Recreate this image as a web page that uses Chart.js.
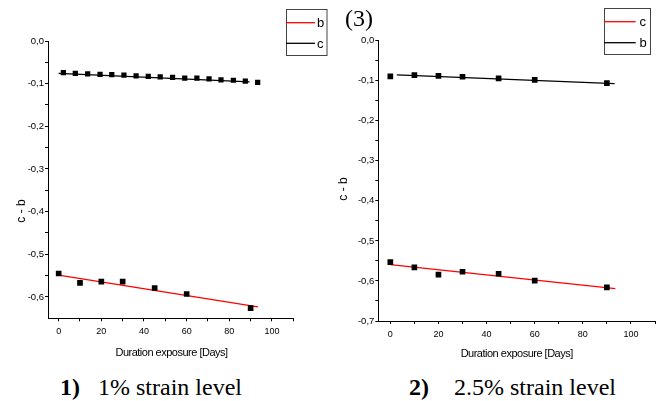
<!DOCTYPE html>
<html>
<head>
<meta charset="utf-8">
<script src="https://cdn.jsdelivr.net/npm/chart.js@4.4.1/dist/chart.umd.min.js"></script>
<style>
  body { margin: 0; background: #fff; width: 661px; height: 401px; overflow: hidden; position: relative; }
  canvas { position: absolute; top: 0; }
  .cap { position: absolute; font-family: "Liberation Serif", "Times New Roman", serif; font-size: 24px; line-height: 24px; white-space: nowrap; color: #000; }
  .cap b { display: inline-block; }
</style>
</head>
<body>
<canvas id="chart1" width="330" height="370" style="left:0"></canvas>
<canvas id="chart2" width="331" height="370" style="left:330px"></canvas>
<div class="cap" style="left:345px; top:6px;">(3)</div>
<div class="cap" style="left:60px; top:375px;"><b style="width:38px">1)</b>1% strain level</div>
<div class="cap" style="left:409px; top:375px;"><b style="width:45px">2)</b>2.5% strain level</div>
<script>
// panel 1 : 1% strain level
const days1C = [2.2, 7.8, 13.6, 19.4, 24.9, 30.6, 36.3, 42.0, 47.6, 53.4, 59.1, 64.8, 70.5, 76.1, 81.9, 87.5, 93.3];
const c1 = [-0.074, -0.076, -0.077, -0.078, -0.079, -0.080, -0.082, -0.083, -0.084, -0.085, -0.087, -0.087, -0.089, -0.091, -0.092, -0.094, -0.097];
const days1B = [0, 10, 20, 30, 45, 60, 90];
const b1 = [-0.545, -0.567, -0.564, -0.564, -0.579, -0.593, -0.626];
const fitC1X = [0, 89.5];
const fitC1Y = [-0.076, -0.096];
const fitB1X = [0, 93.4];
const fitB1Y = [-0.549, -0.623];

// panel 2 : 2.5% strain level
const days2 = [0, 10, 20, 30, 45, 60, 90];
const b2 = [-0.089, -0.086, -0.088, -0.090, -0.094, -0.098, -0.106];
const c2 = [-0.553, -0.566, -0.584, -0.577, -0.582, -0.599, -0.616];
const fitB2X = [2.7, 93.2];
const fitB2Y = [-0.0855, -0.107];
const fitC2X = [0, 93.5];
const fitC2Y = [-0.559, -0.619];

// axes
const xTicks = [0, 10, 20, 30, 40, 50, 60, 70, 80, 90, 100, 110];
const xLabels = [0, 20, 40, 60, 80, 100];
const yTicks1 = [0, -0.05, -0.1, -0.15, -0.2, -0.25, -0.3, -0.35, -0.4, -0.45, -0.5, -0.55, -0.6];
const yTicks2 = [0, -0.05, -0.1, -0.15, -0.2, -0.25, -0.3, -0.35, -0.4, -0.45, -0.5, -0.55, -0.6, -0.65, -0.7];
const xTitle = "Duration exposure [Days]";
const yTitle = "c - b";

Chart.defaults.font.family = "'Liberation Sans', Arial, sans-serif";
Chart.defaults.color = "#000";

function pts(xs, ys) {
  return xs.map((x, i) => ({ x: x, y: ys[i] }));
}

function fmtY(v) {
  const r = Math.round(v * 100);
  if (r % 10 !== 0) return "";
  if (r === 0) return "0,0";
  return (v < 0 ? "-" : "") + "0," + Math.abs(r / 10);
}

// legend box + axis titles
const decor = {
  id: "decor",
  afterDraw(chart, args, o) {
    const ctx = chart.ctx;
    ctx.save();
    const lg = o.legend;
    ctx.strokeStyle = "#444";
    ctx.lineWidth = 1;
    ctx.strokeRect(lg.x + 0.5, lg.y + 0.5, lg.w, lg.h);
    const items = chart.data.datasets.filter(d => d.showLine);
    items.forEach((d, i) => {
      const y = lg.rows[i];
      ctx.strokeStyle = d.borderColor;
      ctx.lineWidth = 1.3;
      ctx.beginPath();
      ctx.moveTo(lg.x, y);
      ctx.lineTo(lg.lineEnd, y);
      ctx.stroke();
      ctx.fillStyle = "#000";
      ctx.font = "13px 'Liberation Sans', Arial, sans-serif";
      ctx.textBaseline = "middle";
      ctx.textAlign = "left";
      ctx.fillText(d.label, lg.textX, y + 1);
    });

    ctx.fillStyle = "#000";
    ctx.font = "11px 'Liberation Sans', Arial, sans-serif";
    ctx.letterSpacing = "-0.5px";
    ctx.textAlign = "center";
    ctx.textBaseline = "middle";
    ctx.fillText(xTitle, o.xTitle.x, o.xTitle.y);
    ctx.letterSpacing = "0px";

    ctx.font = "12px 'Liberation Sans', Arial, sans-serif";
    ctx.translate(o.yTitle.x, o.yTitle.y);
    ctx.rotate(-Math.PI / 2);
    ctx.fillText(yTitle, 0, 0);
    ctx.restore();
  }
};

function makeChart(id, datasets, cfg) {
  return new Chart(document.getElementById(id), {
    type: "scatter",
    data: { datasets: datasets },
    options: {
      responsive: false,
      animation: false,
      layout: { padding: { top: cfg.top, right: cfg.right, left: 0, bottom: 0 } },
      plugins: {
        legend: { display: false },
        tooltip: { enabled: false },
        decor: cfg.decor
      },
      scales: {
        x: {
          type: "linear",
          min: -5,
          max: 110,
          afterFit: s => { s.height = cfg.xHeight; },
          afterBuildTicks: s => { s.ticks = xTicks.map(v => ({ value: v })); },
          border: { display: true, color: "#000", width: 1 },
          grid: { drawOnChartArea: false, drawTicks: true, tickLength: 3, color: "#000" },
          ticks: {
            font: { size: 9 },
            padding: 5,
            maxRotation: 0,
            autoSkip: false,
            callback: v => (xLabels.includes(v) ? String(v) : "")
          }
        },
        y: {
          type: "linear",
          min: cfg.yMin,
          max: 0,
          afterFit: s => { s.width = cfg.yWidth; },
          afterBuildTicks: s => { s.ticks = cfg.yTicks.map(v => ({ value: v })); },
          border: { display: true, color: "#000", width: 1 },
          grid: { drawOnChartArea: false, drawTicks: true, tickLength: 3, color: "#000" },
          ticks: {
            font: { size: 9.5 },
            padding: 1,
            autoSkip: false,
            callback: v => fmtY(v)
          }
        }
      }
    },
    plugins: [decor]
  });
}

const marker = { showLine: false, pointStyle: "rect", backgroundColor: "#000", borderColor: "#000", borderWidth: 0, order: 0 };
const fit = { showLine: true, pointRadius: 0, borderWidth: 1.3, order: 1, clip: false };

makeChart("chart1", [
  Object.assign({ label: "b", data: pts(fitB1X, fitB1Y), borderColor: "#ff0000" }, fit),
  Object.assign({ label: "c", data: pts(fitC1X, fitC1Y), borderColor: "#000000" }, fit),
  Object.assign({ label: "c points", data: pts(days1C, c1), pointRadius: 3.7 }, marker),
  Object.assign({ label: "b points", data: pts(days1B, b1), pointRadius: 4 }, marker)
], {
  top: 41, right: 36.7, xHeight: 51.7, yWidth: 48, yMin: -0.65, yTicks: yTicks1,
  decor: {
    legend: { x: 286, y: 9, w: 40.5, h: 46, lineEnd: 315, textX: 317, rows: [22.7, 43.3] },
    xTitle: { x: 171.5, y: 353 },
    yTitle: { x: 22, y: 211 }
  }
});

makeChart("chart2", [
  Object.assign({ label: "c", data: pts(fitC2X, fitC2Y), borderColor: "#ff0000" }, fit),
  Object.assign({ label: "b", data: pts(fitB2X, fitB2Y), borderColor: "#000000" }, fit),
  Object.assign({ label: "b points", data: pts(days2, b2), pointRadius: 4 }, marker),
  Object.assign({ label: "c points", data: pts(days2, c2), pointRadius: 4 }, marker)
], {
  top: 40.7, right: 6, xHeight: 49, yWidth: 48.3, yMin: -0.7, yTicks: yTicks2,
  decor: {
    legend: { x: 274, y: 8, w: 46, h: 46, lineEnd: 305.7, textX: 309.5, rows: [21.7, 42.7] },
    xTitle: { x: 186.7, y: 354 },
    yTitle: { x: 14, y: 189 }
  }
});
</script>
</body>
</html>
